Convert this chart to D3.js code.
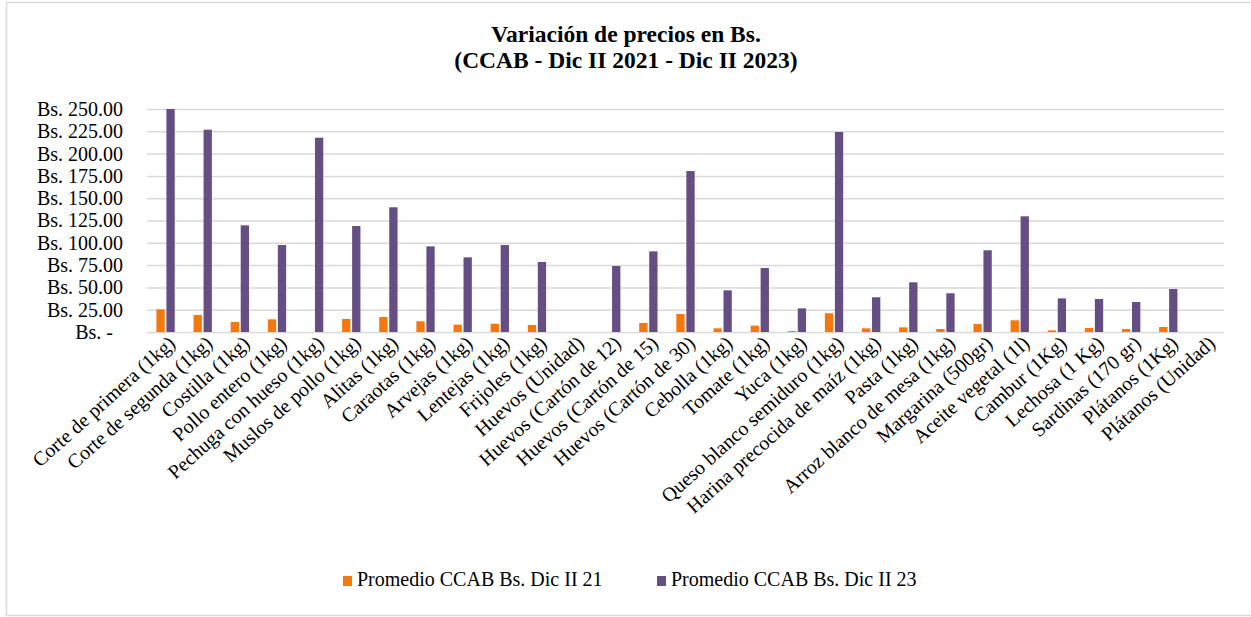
<!DOCTYPE html>
<html>
<head>
<meta charset="utf-8">
<script src="https://cdn.jsdelivr.net/npm/d3@7"></script>
<style>
  body { margin: 0; background: #fff; }
  text { font-family: "Liberation Serif", "DejaVu Serif", serif; fill: #000; }
</style>
</head>
<body>
<svg width="1251" height="617"></svg>
<script>
var categories = [
  "Corte de primera (1kg)", "Corte de segunda (1kg)", "Costilla (1kg)", "Pollo entero (1kg)",
  "Pechuga con hueso (1kg)", "Muslos de pollo (1kg)", "Alitas (1kg)", "Caraotas (1kg)",
  "Arvejas (1kg)", "Lentejas (1kg)", "Frijoles (1kg)", "Huevos (Unidad)",
  "Huevos (Cartón de 12)", "Huevos (Cartón de 15)", "Huevos (Cartón de 30)", "Cebolla (1kg)",
  "Tomate (1kg)", "Yuca (1kg)", "Queso blanco semiduro (1kg)", "Harina precocida de maíz (1kg)",
  "Pasta (1kg)", "Arroz blanco de mesa (1kg)", "Margarina (500gr)", "Aceite vegetal (1l)",
  "Cambur (1Kg)", "Lechosa (1 Kg)", "Sardinas (170 gr)", "Plátanos (1Kg)", "Plátanos (Unidad)"
];
var dic21 = [25.4, 19.1, 11.2, 14.2, 0, 14.6, 16.8, 12.0, 8.2, 9.3, 7.8, 0, 0, 10.1, 20.2,
  4.1, 7.1, 1.1, 21.0, 4.1, 5.2, 3.4, 9.0, 13.1, 1.8, 4.5, 3.4, 5.6, 0];
var dic23 = [250.0, 226.8, 119.6, 97.5, 217.8, 118.8, 139.8, 96.0, 83.7, 97.5, 78.5, 0, 74.0, 90.4, 180.5,
  46.7, 71.7, 26.5, 224.2, 38.9, 55.7, 43.4, 91.6, 129.7, 37.7, 37.0, 33.6, 48.2, 0];
var seriesNames = ["Promedio CCAB Bs. Dic II 21", "Promedio CCAB Bs. Dic II 23"];
var seriesColors = ["#f5780e", "#654e83"];
var yTicks = [0, 25, 50, 75, 100, 125, 150, 175, 200, 225, 250];

var svg = d3.select("svg"),
    width = +svg.attr("width"),
    height = +svg.attr("height");

// chart frame
svg.append("rect")
  .attr("x", 6.5).attr("y", 2.5)
  .attr("width", 1260).attr("height", 613)
  .attr("fill", "#fff").attr("stroke", "#d9d9d9").attr("stroke-width", 1.5);

var plotLeft = 147, plotRight = 1224, plotTop = 109, plotBottom = 332;

var x = d3.scaleBand().domain(categories).range([plotLeft, plotRight]).padding(0);
var x1 = d3.scaleBand().domain([0, 1]).range([0, x.bandwidth()])
  .paddingInner(0.17).paddingOuter(0.94);
var y = d3.scaleLinear().domain([0, 250]).range([plotBottom, plotTop]);

// title
var title = svg.append("text")
  .attr("text-anchor", "middle")
  .style("font-weight", "bold")
  .style("font-size", "23.5px");
title.append("tspan").attr("x", 626).attr("y", 42).text("Variación de precios en Bs.");
title.append("tspan").attr("x", 626).attr("y", 68).text("(CCAB - Dic II 2021 - Dic II 2023)");

// y axis + gridlines
var yAxis = svg.append("g")
  .attr("transform", "translate(" + plotLeft + ",0)")
  .call(d3.axisLeft(y)
    .tickValues(yTicks)
    .tickSize(-(plotRight - plotLeft))
    .tickPadding(24)
    .tickFormat(function(d) { return d === 0 ? "Bs. -" : "Bs. " + d3.format(".2f")(d); }));
yAxis.select(".domain").remove();
yAxis.selectAll("line").attr("stroke", "#d9d9d9").attr("stroke-width", 1.5);
yAxis.selectAll("text").style("font-size", "20px")
  .attr("dx", function(d) { return d === 0 ? -10 : 0; });

// bars
var data = categories.map(function(c, i) { return {cat: c, vals: [dic21[i], dic23[i]]}; });
var groups = svg.append("g").selectAll("g")
  .data(data)
  .enter().append("g")
    .attr("transform", function(d) { return "translate(" + x(d.cat) + ",0)"; });
groups.selectAll("rect")
  .data(function(d) { return d.vals.map(function(v, k) { return {k: k, v: v}; }); })
  .enter().append("rect")
    .filter(function(d) { return d.v > 0; })
    .attr("x", function(d) { return x1(d.k); })
    .attr("width", x1.bandwidth())
    .attr("y", function(d) { return y(d.v); })
    .attr("height", function(d) { return y(0) - y(d.v); })
    .attr("fill", function(d) { return seriesColors[d.k]; });

// category labels
svg.append("g").selectAll("text")
  .data(categories)
  .enter().append("text")
    .attr("transform", function(d) {
      return "translate(" + (x(d) + x.bandwidth() / 2 + 11) + ",345) rotate(-42)";
    })
    .attr("text-anchor", "end")
    .style("font-size", "20px")
    .text(function(d) { return d; });

// legend
var legendX = [343, 657];
var legend = svg.append("g").selectAll("g")
  .data(seriesNames)
  .enter().append("g")
    .attr("transform", function(d, i) { return "translate(" + legendX[i] + ",576)"; });
legend.append("rect")
  .attr("width", 9).attr("height", 10)
  .attr("fill", function(d, i) { return seriesColors[i]; });
legend.append("text")
  .attr("x", 14).attr("y", 10)
  .style("font-size", "20px")
  .text(function(d) { return d; });
</script>
</body>
</html>
